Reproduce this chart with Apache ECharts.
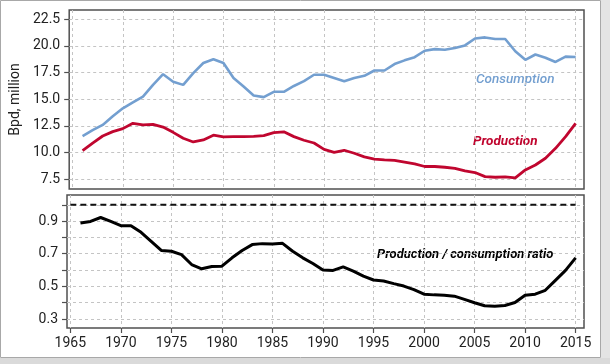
<!DOCTYPE html>
<html>
<head>
<meta charset="utf-8">
<script src="https://cdn.jsdelivr.net/npm/echarts@6/dist/echarts.min.js"></script>
<style>
html,body{margin:0;padding:0;background:#fff;}
#c{width:610px;height:364px;}
</style>
</head>
<body>
<div id="c"></div>
<script>
// ---- data ----
const years = [1966,1967,1968,1969,1970,1971,1972,1973,1974,1975,1976,1977,1978,1979,1980,
  1981,1982,1983,1984,1985,1986,1987,1988,1989,1990,1991,1992,1993,1994,1995,1996,1997,1998,
  1999,2000,2001,2002,2003,2004,2005,2006,2007,2008,2009,2010,2011,2012,2013,2014,2015];
const consumption = [11.55,12.1,12.6,13.4,14.15,14.7,15.25,16.35,17.35,16.65,16.35,17.45,18.4,18.75,18.4,
  17.0,16.2,15.35,15.2,15.7,15.7,16.25,16.7,17.3,17.3,17.0,16.7,17.0,17.2,17.7,17.7,18.3,18.65,
  18.95,19.55,19.7,19.65,19.8,20.05,20.7,20.8,20.65,20.65,19.5,18.7,19.2,18.9,18.5,19.0,18.97];
const production = [10.19,10.9,11.56,11.97,12.25,12.75,12.6,12.65,12.4,11.9,11.35,11.0,11.19,11.63,11.47,
  11.5,11.5,11.53,11.6,11.88,11.95,11.5,11.16,10.9,10.3,10.03,10.22,9.94,9.6,9.4,9.32,9.28,9.12,
  8.95,8.7,8.7,8.63,8.53,8.28,8.13,7.75,7.69,7.72,7.63,8.38,8.84,9.47,10.4,11.5,12.75];
const ratio = [0.888,0.898,0.922,0.898,0.872,0.872,0.831,0.776,0.72,0.715,0.695,0.634,0.608,0.622,0.624,
  0.675,0.72,0.756,0.762,0.76,0.764,0.715,0.675,0.64,0.6,0.598,0.62,0.594,0.563,0.539,0.533,0.517,0.502,
  0.48,0.452,0.448,0.446,0.44,0.42,0.4,0.381,0.379,0.383,0.401,0.446,0.452,0.476,0.537,0.598,0.675];
const refYears = [1965, 2015];
const refValue = 1.0;
const xTicks = [1965,1970,1975,1980,1985,1990,1995,2000,2005,2010,2015];
const topTicks = [7.5,10.0,12.5,15.0,17.5,20.0,22.5];
const bottomTicks = [0.3,0.4,0.5,0.6,0.7,0.8,0.9,1.0];
const bottomLabels = [0.3,0.5,0.7,0.9];
const yName = 'Bpd, million';
const labelConsumption = 'Consumption';
const labelProduction = 'Production';
const labelRatio = 'Production / consumption ratio';

const blue = '#739fd0';
const red = '#c0062f';
const FONT = 'Roboto';
const gridLine = {show:true, lineStyle:{color:'#c4c4c4', type:[3,3], width:1}};

const pairs = (xs, ys) => xs.map((x,i)=>[x, ys[i]]);

const chart = echarts.init(document.getElementById('c'), null, {renderer:'canvas'});
chart.setOption({
  backgroundColor:'#fff',
  animation:false,
  textStyle:{fontFamily:FONT},
  grid:[
    {left:67, top:10, width:517, height:179, show:true, borderColor:'#505050', borderWidth:1.5, backgroundColor:'transparent'},
    {left:67, top:195, width:517, height:133, show:true, borderColor:'#505050', borderWidth:1.5, backgroundColor:'transparent'}
  ],
  xAxis:[
    {type:'value', gridIndex:0, min:1964.67, max:2015.83,
     axisLine:{show:false}, axisTick:{show:false, customValues:xTicks},
     axisLabel:{show:false, customValues:xTicks}, splitLine:gridLine},
    {type:'value', gridIndex:1, min:1964.67, max:2015.83,
     axisLine:{show:false},
     axisTick:{show:true, length:5, customValues:xTicks, lineStyle:{color:'#505050', width:1.2}},
     axisLabel:{show:true, customValues:xTicks, margin:8, fontSize:14, color:'#222', fontFamily:FONT,
       formatter:v=>String(Math.round(v))},
     splitLine:gridLine}
  ],
  yAxis:[
    {type:'value', gridIndex:0, min:6.59, max:23.37,
     name:yName, nameLocation:'middle', nameGap:40, nameRotate:90,
     nameTextStyle:{fontSize:14, color:'#222', fontFamily:FONT},
     axisLine:{show:false},
     axisTick:{show:true, length:5, customValues:topTicks, lineStyle:{color:'#505050', width:1.2}},
     axisLabel:{show:true, customValues:topTicks, margin:9, fontSize:14, color:'#222', fontFamily:FONT,
       formatter:v=>v.toFixed(1)},
     splitLine:gridLine},
    {type:'value', gridIndex:1, min:0.245, max:1.06,
     axisLine:{show:false},
     axisTick:{show:true, length:5, customValues:bottomTicks, lineStyle:{color:'#505050', width:1.2}},
     axisLabel:{show:true, customValues:bottomLabels, margin:9, fontSize:14, color:'#222', fontFamily:FONT,
       formatter:v=>v.toFixed(1)},
     splitLine:gridLine}
  ],
  series:[
    {type:'line', xAxisIndex:0, yAxisIndex:0, data:pairs(years, consumption), symbol:'none',
     lineStyle:{color:blue, width:2.6}, z:3},
    {type:'line', xAxisIndex:0, yAxisIndex:0, data:pairs(years, production), symbol:'none',
     lineStyle:{color:red, width:2.8}, z:3},
    {type:'line', xAxisIndex:1, yAxisIndex:1, data:pairs(refYears, [refValue, refValue]), symbol:'none',
     lineStyle:{color:'#111', width:2, type:[6,4]}, z:2},
    {type:'line', xAxisIndex:1, yAxisIndex:1, data:pairs(years, ratio), symbol:'none',
     lineStyle:{color:'#000', width:3}, z:3}
  ],
  graphic:[
    {type:'rect', shape:{x:0.5,y:0.5,width:600,height:357}, style:{fill:'none', stroke:'#a8a8a8', lineWidth:1}, silent:true},
    {type:'rect', shape:{x:601,y:0,width:9,height:364}, style:{fill:'#e4e4e4'}, silent:true},
    {type:'rect', shape:{x:0,y:358,width:610,height:6}, style:{fill:'#dadada'}, silent:true},
    {type:'text', left:476, top:73, style:{text:labelConsumption, fill:blue, font:'italic 500 13.5px Roboto'}},
    {type:'text', left:473, top:135, style:{text:labelProduction, fill:red, font:'italic 700 13.5px Roboto'}},
    {type:'text', left:377, top:248, style:{text:labelRatio, fill:'#000', font:'italic 700 13px Roboto'}}
  ]
});
</script>
</body>
</html>
